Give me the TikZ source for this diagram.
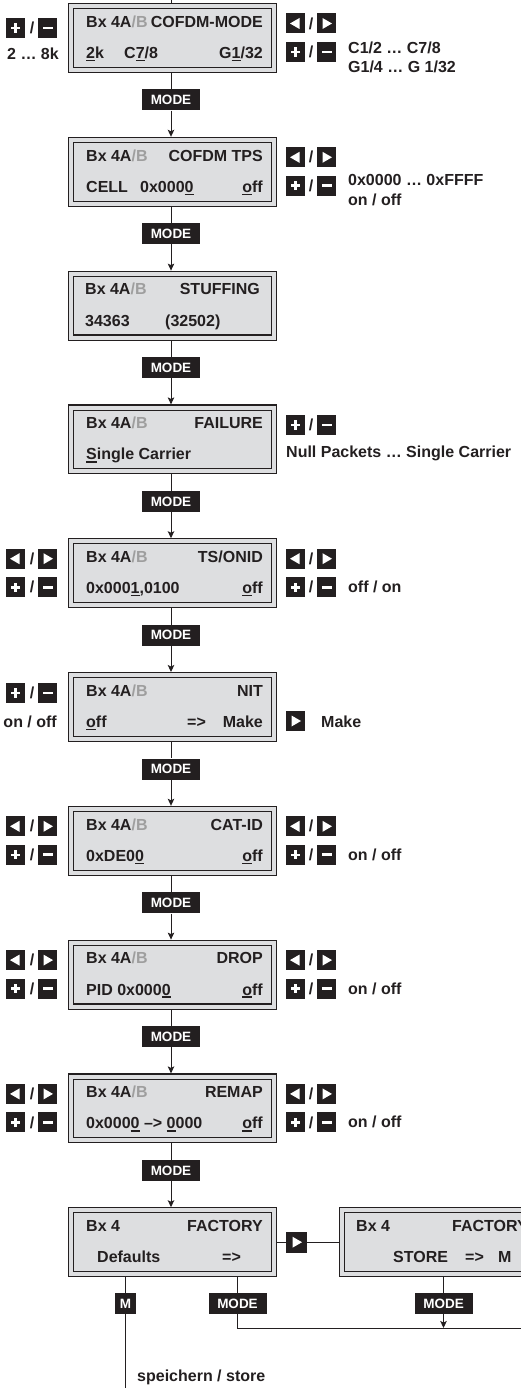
\documentclass[tikz,border=0pt]{standalone}
\usepackage{fontspec}
\setmainfont{Liberation Sans}
\usetikzlibrary{arrows.meta,calc}
\definecolor{ink}{RGB}{35,31,32}
\definecolor{lcd}{RGB}{221,222,224}
\definecolor{lgray}{RGB}{158,158,158}
\newcommand{\gB}{\textcolor{lgray}{/B}}
\newcommand{\ul}[1]{\setbox0\hbox{#1}\rlap{\rule[-2.6pt]{\wd0}{1.3pt}}#1}
\newcommand{\lcdfont}{\fontsize{16}{18}\selectfont\bfseries}
\newcommand{\mdfont}{\fontsize{13.5}{15}\selectfont\bfseries}
\tikzset{
  lcdbox/.style={draw=ink, line width=1.1pt, double=lcd, double distance=4pt, fill=lcd,
    minimum width=202.8pt, minimum height=63.8pt, inner sep=0pt, outer sep=3.1pt},
  modebox/.style={fill=ink, text=white, font=\mdfont, minimum width=58pt, minimum height=21pt, inner sep=0pt},
  keybox/.style={fill=ink, minimum width=19pt, minimum height=20pt, inner sep=0pt},
  kplus/.style={keybox, path picture={
    \fill[white] ([shift={(-4.6pt,-1.3pt)}]path picture bounding box.center) rectangle ([shift={(4.6pt,1.3pt)}]path picture bounding box.center);
    \fill[white] ([shift={(-1.3pt,-4.6pt)}]path picture bounding box.center) rectangle ([shift={(1.3pt,4.6pt)}]path picture bounding box.center);}},
  kminus/.style={keybox, path picture={
    \fill[white] ([shift={(-5pt,-1.4pt)}]path picture bounding box.center) rectangle ([shift={(5pt,1.4pt)}]path picture bounding box.center);}},
  kright/.style={keybox, path picture={
    \fill[white] ([shift={(-4pt,5.5pt)}]path picture bounding box.center) -- ([shift={(5.5pt,0pt)}]path picture bounding box.center) -- ([shift={(-4pt,-5.5pt)}]path picture bounding box.center) -- cycle;}},
  kleft/.style={keybox, path picture={
    \fill[white] ([shift={(4pt,5.5pt)}]path picture bounding box.center) -- ([shift={(-5.5pt,0pt)}]path picture bounding box.center) -- ([shift={(4pt,-5.5pt)}]path picture bounding box.center) -- cycle;}},
  slash/.style={font=\lcdfont, text=ink, inner sep=0pt},
  tl/.style={font=\lcdfont, text=ink, inner sep=0pt, anchor=base west},
  tr/.style={font=\lcdfont, text=ink, inner sep=0pt, anchor=base east},
  conn/.style={draw=ink, line width=1pt},
  arr/.style={conn, -{Stealth[length=7pt,width=6.5pt,inset=1.5pt]}},
}
\begin{document}
\begin{tikzpicture}[x=1pt,y=-1pt]
\clip (0,0) rectangle (521,1388);
\useasboundingbox (0,0) rectangle (521,1388);

% ---------- LCD boxes ----------
\node[lcdbox] (b1) at (172.5,38) {};
\node[lcdbox] (b2) at (172.5,171.8) {};
\node[lcdbox] (b3) at (172.5,305.6) {};
\node[lcdbox] (b4) at (172.5,439.4) {};
\node[lcdbox] (b5) at (172.5,573.2) {};
\node[lcdbox] (b6) at (172.5,707) {};
\node[lcdbox] (b7) at (172.5,840.8) {};
\node[lcdbox] (b8) at (172.5,974.6) {};
\node[lcdbox] (b9) at (172.5,1108.4) {};
\node[lcdbox] (b10) at (172.5,1242.2) {};
\node[lcdbox] (b11) at (443.5,1242.2) {};

% ---------- MODE buttons ----------
\node[modebox] (m1) at (171,100) {MODE};
\node[modebox] (m2) at (171,233.8) {MODE};
\node[modebox] (m3) at (171,367.6) {MODE};
\node[modebox] (m4) at (171,501.4) {MODE};
\node[modebox] (m5) at (171,635.2) {MODE};
\node[modebox] (m6) at (171,769) {MODE};
\node[modebox] (m7) at (171,902.8) {MODE};
\node[modebox] (m8) at (171,1036.6) {MODE};
\node[modebox] (m9) at (171,1170.4) {MODE};
\node[modebox] (m10) at (237.5,1303.5) {MODE};
\node[modebox] (m11) at (443.5,1303.5) {MODE};
\node[keybox, minimum width=21pt, minimum height=21pt, text=white, font=\mdfont] (mk) at (125.5,1303.5) {M};
\node[kright, minimum width=21pt, minimum height=21pt] (kf) at (296.5,1242.2) {};

% ---------- connectors ----------
\coordinate (top0) at (171,0);
\draw[conn] (top0) -- (b1.north -| top0);
\foreach \i/\j in {1/2,2/3,3/4,4/5,5/6,6/7,7/8,8/9,9/10}{
  \draw[conn] (b\i.south -| m\i) -- (m\i.north);
  \draw[arr] (m\i.south) -- (b\j.north -| m\i);
}
\draw[conn] (b10.east) -- (kf.west);
\draw[conn] (kf.east) -- (b11.west);
\coordinate (mend) at (125.5,1388);
\coordinate (rend) at (521,1328);
\coordinate (jn) at (443.5,1328);
\draw[conn] (b10.south -| mk) -- (mk.north);
\draw[conn] (mk.south) -- (mend);
\draw[conn] (b10.south -| m10) -- (m10.north);
\draw[conn] (m10.south) |- (rend);
\draw[conn] (b11.south -| m11) -- (m11.north);
\draw[arr] (m11.south) -- (jn);

% ---------- box texts ----------
% 1
\node[tl] (t1a) at (86,27.3) {Bx 4A\gB};
\node[tr] (t1b) at (263,27.3) {COFDM-MODE};
\node[tl] (t1c) at (86,58.5) {\ul{2}k};
\node[tl] (t1d) at (124,58.5) {C\ul{7}/8};
\node[tr] (t1e) at (263,58.5) {G\ul{1}/32};
% 2
\node[tl] (t2a) at (86,161.1) {Bx 4A\gB};
\node[tr] (t2b) at (263,161.1) {COFDM TPS};
\node[tl] (t2c) at (86,192.3) {CELL};
\node[tl] (t2d) at (140,192.3) {0x000\ul{0}};
\node[tr] (t2e) at (263,192.3) {\ul{o}ff};
% 3
\node[tl] (t3a) at (85,294.9) {Bx 4A\gB};
\node[tr] (t3b) at (260,294.9) {STUFFING};
\node[tl] (t3c) at (85,326.1) {34363};
\node[tl] (t3d) at (165,326.1) {(32502)};
% 4
\node[tl] (t4a) at (86,428.7) {Bx 4A\gB};
\node[tr] (t4b) at (263,428.7) {FAILURE};
\node[tl] (t4c) at (86,459.9) {\ul{S}ingle Carrier};
% 5
\node[tl] (t5a) at (86,562.5) {Bx 4A\gB};
\node[tr] (t5b) at (263,562.5) {TS/ONID};
\node[tl] (t5c) at (86,593.7) {0x000\ul{1},0100};
\node[tr] (t5d) at (263,593.7) {\ul{o}ff};
% 6
\node[tl] (t6a) at (86,696.3) {Bx 4A\gB};
\node[tr] (t6b) at (263,696.3) {NIT};
\node[tl] (t6c) at (86,727.5) {\ul{o}ff};
\node[tl] (t6d) at (187,727.5) {=>};
\node[tr] (t6e) at (263,727.5) {Make};
% 7
\node[tl] (t7a) at (86,830.1) {Bx 4A\gB};
\node[tr] (t7b) at (263,830.1) {CAT-ID};
\node[tl] (t7c) at (86,861.3) {0xDE0\ul{0}};
\node[tr] (t7d) at (263,861.3) {\ul{o}ff};
% 8
\node[tl] (t8a) at (86,963.9) {Bx 4A\gB};
\node[tr] (t8b) at (263,963.9) {DROP};
\node[tl] (t8c) at (86,995.1) {PID 0x000\ul{0}};
\node[tr] (t8d) at (263,995.1) {\ul{o}ff};
% 9
\node[tl] (t9a) at (86,1097.7) {Bx 4A\gB};
\node[tr] (t9b) at (263,1097.7) {REMAP};
\node[tl] (t9c) at (86,1128.9) {0x000\ul{0} –> \ul{0}000};
\node[tr] (t9d) at (263,1128.9) {\ul{o}ff};
% 10
\node[tl] (t10a) at (86,1231.5) {Bx 4};
\node[tr] (t10b) at (263,1231.5) {FACTORY};
\node[tl] (t10c) at (97,1262.7) {Defaults};
\node[tl] (t10d) at (222,1262.7) {=>};
% 11
\node[tl] (t11a) at (356,1231.5) {Bx 4};
\node[tl] (t11b) at (452,1231.5) {FACTORY};
\node[tl] (t11c) at (393,1262.7) {STORE};
\node[tl] (t11d) at (465,1262.7) {=>};
\node[tl] (t11e) at (498,1262.7) {M};

% ---------- keys ----------
% box 1
\node[kplus] (k1a) at (15.5,28) {}; \node[slash] (s1a) at (32,28) {/}; \node[kminus] (k1b) at (47.5,28) {};
\node[tl] (l1a) at (7,60) {2 … 8k};
\node[kleft] (k1c) at (295.5,23.5) {}; \node[slash] (s1b) at (311,23.5) {/}; \node[kright] (k1d) at (326.5,23.5) {};
\node[kplus] (k1e) at (295.5,52) {}; \node[slash] (s1c) at (311,52) {/}; \node[kminus] (k1f) at (326.5,52) {};
\node[tl] (l1b) at (348,53.6) {C1/2 … C7/8};
\node[tl] (l1c) at (348,73) {G1/4 … G 1/32};
% box 2
\node[kleft] (k2a) at (295.5,157.3) {}; \node[slash] (s2a) at (311,157.3) {/}; \node[kright] (k2b) at (326.5,157.3) {};
\node[kplus] (k2c) at (295.5,185.8) {}; \node[slash] (s2b) at (311,185.8) {/}; \node[kminus] (k2d) at (326.5,185.8) {};
\node[tl] (l2a) at (348,185.8) {0x0000 … 0xFFFF};
\node[tl] (l2b) at (348,205.8) {on / off};
% box 4
\node[kplus] (k4a) at (295.5,424.9) {}; \node[slash] (s4a) at (311,424.9) {/}; \node[kminus] (k4b) at (326.5,424.9) {};
\node[tl] (l4a) at (286,457.4) {Null Packets … Single Carrier};
% box 5
\node[kleft] (k5a) at (15.5,558.7) {}; \node[slash] (s5a) at (32,558.7) {/}; \node[kright] (k5b) at (47.5,558.7) {};
\node[kplus] (k5c) at (15.5,587.2) {}; \node[slash] (s5b) at (32,587.2) {/}; \node[kminus] (k5d) at (47.5,587.2) {};
\node[kleft] (k5e) at (295.5,558.7) {}; \node[slash] (s5c) at (311,558.7) {/}; \node[kright] (k5f) at (326.5,558.7) {};
\node[kplus] (k5g) at (295.5,587.2) {}; \node[slash] (s5d) at (311,587.2) {/}; \node[kminus] (k5h) at (326.5,587.2) {};
\node[tl] (l5a) at (348,592.7) {off / on};
% box 6
\node[kplus] (k6a) at (15.5,693) {}; \node[slash] (s6a) at (32,693) {/}; \node[kminus] (k6b) at (47.5,693) {};
\node[tr] (l6a) at (57,727.5) {on / off};
\node[kright] (k6c) at (295.5,721) {};
\node[tl] (l6b) at (321,727.5) {Make};
% boxes 7,8,9
\foreach \n/\ya/\yb/\yl in {7/826.3/854.8/860.3, 8/960.1/988.6/994.1, 9/1093.9/1122.4/1127.9}{
  \node[kleft] (k\n a) at (15.5,\ya) {}; \node[slash] (s\n a) at (32,\ya) {/}; \node[kright] (k\n b) at (47.5,\ya) {};
  \node[kplus] (k\n c) at (15.5,\yb) {}; \node[slash] (s\n b) at (32,\yb) {/}; \node[kminus] (k\n d) at (47.5,\yb) {};
  \node[kleft] (k\n e) at (295.5,\ya) {}; \node[slash] (s\n c) at (311,\ya) {/}; \node[kright] (k\n f) at (326.5,\ya) {};
  \node[kplus] (k\n g) at (295.5,\yb) {}; \node[slash] (s\n d) at (311,\yb) {/}; \node[kminus] (k\n h) at (326.5,\yb) {};
  \node[tl] (l\n a) at (348,\yl) {on / off};
}
% bottom label
\node[tl] (lst) at (137,1381) {speichern / store};
\end{tikzpicture}
\end{document}
